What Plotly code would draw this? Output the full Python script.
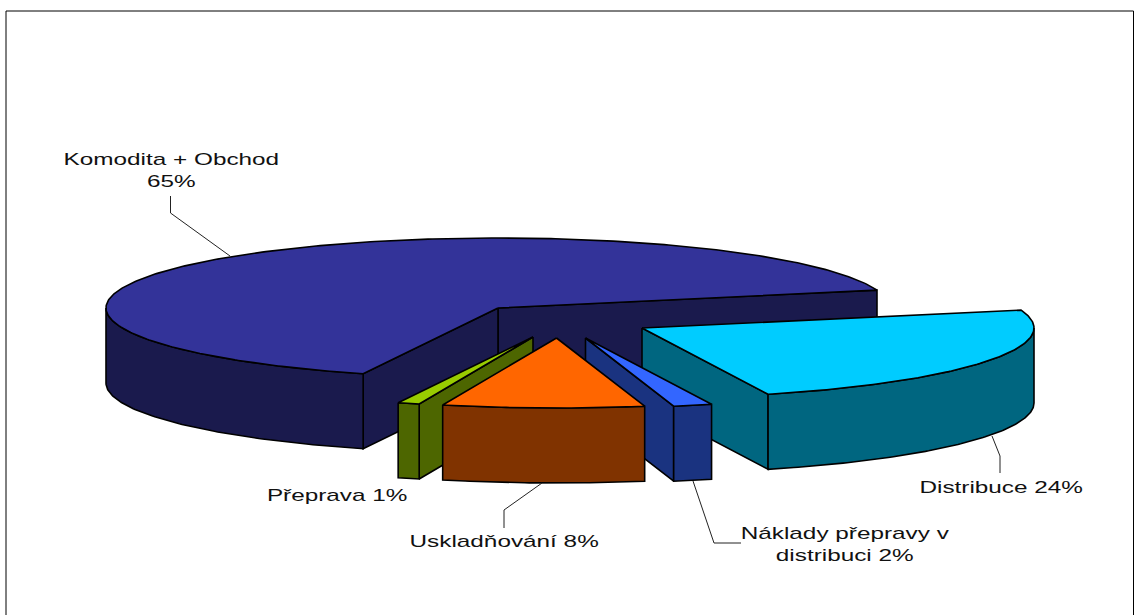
import math
import plotly.graph_objects as go

# Data (shares in percent; labels show them rounded)
categories = ["Komodita + Obchod", "Distribuce", "Náklady přepravy v<br>distribuci", "Uskladňování", "Přeprava"]
values = [65.3, 23.9, 1.6, 8.3, 0.9]

# Styles / projection of the 3-D pie
top_colors = ["#333399", "#00CCFF", "#3366FF", "#FF6600", "#99CC00"]
side_colors = ["#1A1A4D", "#006680", "#1A3380", "#803300", "#4D6600"]
slice_centers = [(498, 308), (642, 328), (585.5, 338), (556.5, 338), (533, 337)]
label_pos = [(171.5, 170), (1000.5, 487), (844.5, 544), (504, 541), (337, 495)]
leaders = [[(170.5, 196), (170.5, 213), (230, 256)],
           [(992, 436), (1000, 456), (1000, 473)],
           [(693, 481), (714, 543), (741, 543)],
           [(542, 483), (504, 510), (504, 528)]]
RX, RY, DEPTH = 392, 70, 75
START_ANGLE = 14.8  # top edge of first slice, degrees counter-clockwise
WIDTH, HEIGHT = 1134, 615

def pt(c, a, dz=0):
    r = math.radians(a)
    return c[0] + RX * math.cos(r), c[1] - RY * math.sin(r) + dz

def arc(c, a0, a1, dz=0):
    n = max(2, int(abs(a1 - a0) * 1.5))
    return [pt(c, a0 + (a1 - a0) * i / n, dz) for i in range(n + 1)]

fig = go.Figure()

def poly(points, color):
    pts = list(points) + [points[0]]
    fig.add_trace(go.Scatter(x=[p[0] for p in pts], y=[p[1] for p in pts], mode="lines",
                             fill="toself", fillcolor=color,
                             line=dict(color="#000000", width=1.6), hoverinfo="skip",
                             showlegend=False))

# slice angle spans: Komodita runs counter-clockwise from the start, the rest clockwise from the start
spans = []
a_end = START_ANGLE
for v in values[1:]:
    spans.append((a_end - v * 3.6, a_end))
    a_end -= v * 3.6
spans = [(START_ANGLE, START_ANGLE + values[0] * 3.6)] + spans

def wall(c, a):
    p = pt(c, a)
    return [c, p, (p[0], p[1] + DEPTH), (c[0], c[1] + DEPTH)]

def outer_wall(c, a0, a1, color):
    top = arc(c, a0, a1)
    bottom = arc(c, a1, a0, DEPTH)
    poly(top + bottom, color)

def draw(i, walls, outer):
    c = slice_centers[i]
    for a in walls:
        poly(wall(c, a), side_colors[i])
    if outer:
        outer_wall(c, outer[0], outer[1], side_colors[i])
    a0, a1 = spans[i]
    poly([c] + arc(c, a0, a1), top_colors[i])

# back-to-front painting
draw(0, [spans[0][0], spans[0][1]], (180, spans[0][1]))
draw(1, [spans[1][0]], (spans[1][0], 0))
draw(2, [spans[2][0]], spans[2])
draw(4, [spans[4][1]], spans[4])
draw(3, [], spans[3])

for seg in leaders:
    fig.add_trace(go.Scatter(x=[p[0] for p in seg], y=[p[1] for p in seg], mode="lines",
                             line=dict(color="#222222", width=1), hoverinfo="skip", showlegend=False))

annotations = []
for cat, v, (lx, ly) in zip(categories, values, label_pos):
    sep = "<br>" if v > 50 else " "
    annotations.append(dict(x=lx, y=ly, xref="x", yref="y", showarrow=False, align="center",
                            text=f"{cat}{sep}{round(v)}%",
                            font=dict(family="Liberation Sans, Arial, sans-serif", size=17, color="#111111")))

fig.update_layout(
    width=WIDTH, height=HEIGHT, margin=dict(l=0, r=0, t=0, b=0),
    paper_bgcolor="white", plot_bgcolor="white", showlegend=False,
    xaxis=dict(range=[0, WIDTH], visible=False, fixedrange=True),
    yaxis=dict(range=[HEIGHT, 0], visible=False, fixedrange=True),
    annotations=annotations,
    shapes=[dict(type="rect", xref="x", yref="y", x0=6, y0=11, x1=1133.5, y1=640,
                 line=dict(color="#000000", width=1), layer="below")],
)

# the reference's labels are horizontally stretched glyphs; keep them as real text
post = """
document.body.style.margin='0';
document.querySelectorAll('.annotation-text').forEach(function(t){
  var spans=t.querySelectorAll('tspan.line');
  var els=spans.length?Array.from(spans):[t];
  els.forEach(function(e){
    var n=e.getComputedTextLength();
    e.setAttribute('textLength',n*1.43);
    e.setAttribute('lengthAdjust','spacingAndGlyphs');
  });
});
"""
fig.write_html("out.html", post_script=post, config={"displayModeBar": False})
